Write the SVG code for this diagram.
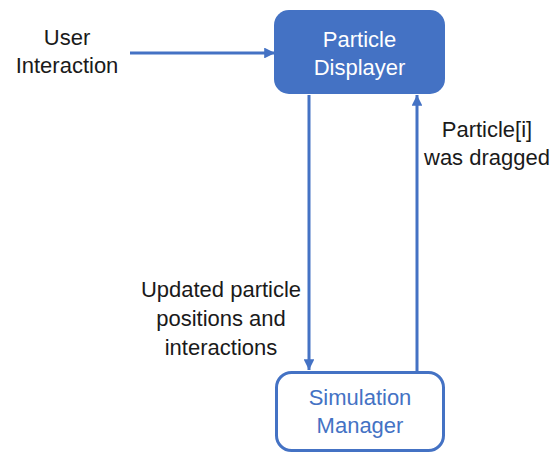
<svg xmlns="http://www.w3.org/2000/svg" width="553" height="454" viewBox="0 0 553 454">
  <defs>
    <marker id="arrow" viewBox="0 0 10 10" refX="10" refY="5" markerWidth="3.6" markerHeight="3.6" orient="auto" markerUnits="strokeWidth">
      <path d="M0,0 L10,5 L0,10 Z" fill="#4472C4"/>
    </marker>
    <style>
      text { font-family: "Liberation Sans", Arial, sans-serif; font-size: 22px; text-anchor: middle; }
      .dark { fill: #1a1a1a; }
      .white { fill: #ffffff; }
      .blue { fill: #4472C4; }
      .conn { stroke: #4472C4; stroke-width: 3; fill: none; marker-end: url(#arrow); }
    </style>
  </defs>
  <rect width="553" height="454" fill="#ffffff"/>

  <g id="connectors">
    <line class="conn" x1="130" y1="53" x2="275" y2="53"/>
    <line class="conn" x1="309" y1="95" x2="309" y2="370"/>
    <line class="conn" x1="417" y1="371" x2="417" y2="95"/>
  </g>

  <g id="particle-displayer">
    <rect x="274" y="10" width="171" height="84" rx="15" ry="15" fill="#4472C4"/>
    <text class="white" x="359.5" y="47">Particle</text>
    <text class="white" x="359.5" y="75">Displayer</text>
  </g>

  <g id="simulation-manager">
    <rect x="276.5" y="372.5" width="167" height="78" rx="15" ry="15" fill="#ffffff" stroke="#4472C4" stroke-width="3"/>
    <text class="blue" x="360" y="405">Simulation</text>
    <text class="blue" x="360" y="433">Manager</text>
  </g>

  <g id="user-interaction">
    <text class="dark" x="67" y="45">User</text>
    <text class="dark" x="67" y="73">Interaction</text>
  </g>

  <g id="label-updated">
    <text class="dark" x="221" y="297">Updated particle</text>
    <text class="dark" x="221" y="326">positions and</text>
    <text class="dark" x="221" y="355">interactions</text>
  </g>

  <g id="label-dragged">
    <text class="dark" x="487" y="137">Particle[i]</text>
    <text class="dark" x="487" y="165">was dragged</text>
  </g>
</svg>
